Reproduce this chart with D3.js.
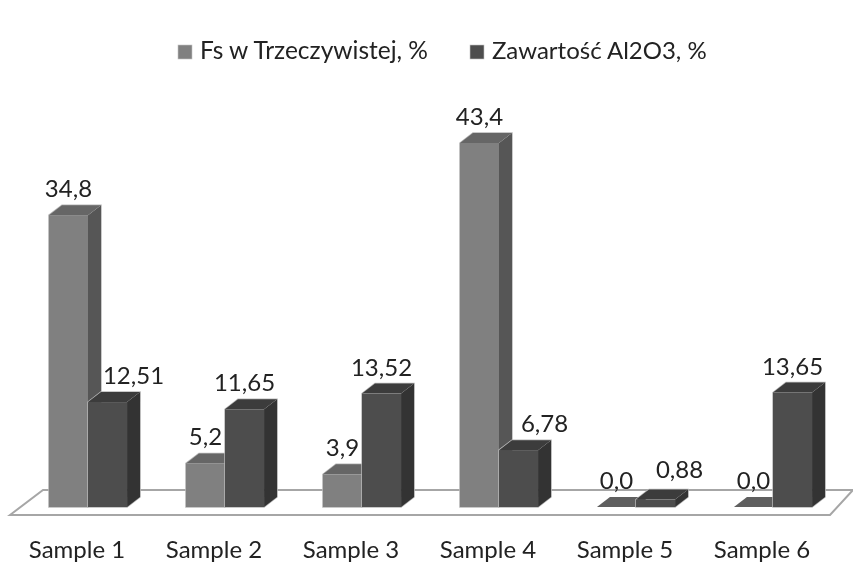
<!DOCTYPE html>
<html>
<head>
<meta charset="utf-8">
<script src="https://cdn.jsdelivr.net/npm/d3@7"></script>
<style>
  body { margin: 0; background: #fff; }
  svg { filter: blur(0.4px); }
  text { font-family: Lato, sans-serif; fill: #222; }
</style>
</head>
<body>
<svg class="chart" width="853" height="565"></svg>
<script>
const categories = ["Sample 1", "Sample 2", "Sample 3", "Sample 4", "Sample 5", "Sample 6"];
const seriesNames = ["Fs w Trzeczywistej, %", "Zawartość Al2O3, %"];
const fsValues = [34.8, 5.2, 3.9, 43.4, 0.0, 0.0];
const fsLabels = ["34,8", "5,2", "3,9", "43,4", "0,0", "0,0"];
const alValues = [12.51, 11.65, 13.52, 6.78, 0.88, 13.65];
const alLabels = ["12,51", "11,65", "13,52", "6,78", "0,88", "13,65"];

const baseY = 507;
const depthX = 13;
const depthY = 10;

const colors = [
  { front: "#808080", top: "#666666", side: "#565656" },
  { front: "#4d4d4d", top: "#3c3c3c", side: "#333333" }
];

const svg = d3.select(".chart");

// Set the scales
const xScale = d3.scaleBand().domain(categories).range([19.5, 841.5]).paddingInner(0.43).paddingOuter(0.215);
const subScale = d3.scaleBand().domain([0, 1]).range([0, xScale.bandwidth()]);
const yScale = d3.scaleLinear().domain([0, 43.4]).range([baseY, 143]);

// Floor of the 3d plot
svg.append("polygon")
  .attr("points", [[10, 515], [43, 490], [853, 490], [830, 515]].join(" "))
  .attr("fill", "#fff")
  .attr("stroke", "#a6a6a6")
  .attr("stroke-width", 2);

// Draw the bars, first series before the second one so it stays behind
const bars = [];
categories.forEach((c, i) => {
  bars.push({ c, s: 0, v: fsValues[i] });
  bars.push({ c, s: 1, v: alValues[i] });
});

const bar = svg.selectAll(".bar").data(bars).enter().append("g").attr("class", "bar");

const x0 = d => xScale(d.c) + subScale(d.s);
const x1 = d => x0(d) + subScale.bandwidth();
const yt = d => yScale(d.v);

// light edge round the whole bar, the faces go on top of it
bar.filter(d => d.v > 0).append("polygon")
  .attr("points", d => [
    [x0(d), baseY], [x0(d), yt(d)], [x0(d) + depthX, yt(d) - depthY],
    [x1(d) + depthX, yt(d) - depthY], [x1(d) + depthX, baseY - depthY], [x1(d), baseY]
  ].join(" "))
  .attr("fill", "none")
  .attr("stroke", "#b8b8b8")
  .attr("stroke-width", 1.5);

bar.append("polygon")
  .attr("points", d => [[x1(d), yt(d)], [x1(d) + depthX, yt(d) - depthY], [x1(d) + depthX, baseY - depthY], [x1(d), baseY]].join(" "))
  .attr("fill", d => colors[d.s].side);

bar.append("polygon")
  .attr("points", d => [[x0(d), yt(d)], [x0(d) + depthX, yt(d) - depthY], [x1(d) + depthX, yt(d) - depthY], [x1(d), yt(d)]].join(" "))
  .attr("fill", d => d.v > 0 ? colors[d.s].top : "#5f5f5f");

bar.filter(d => d.v > 0).append("rect")
  .attr("x", x0)
  .attr("y", yt)
  .attr("width", subScale.bandwidth())
  .attr("height", d => baseY - yt(d))
  .attr("fill", d => colors[d.s].front);

// Value labels
const labelSize = 24;
categories.forEach((c, i) => {
  const a = { c, s: 0, v: fsValues[i] };
  const b = { c, s: 1, v: alValues[i] };
  const close = Math.abs(yt(a) - yt(b)) < 25;
  // the second label moves right when the first bar or its label is in the way
  const shift = close ? 24 : fsValues[i] > alValues[i] ? 26 : 0;

  svg.append("text")
    .attr("x", (x0(a) + x1(a)) / 2)
    .attr("y", yt(a) - 18)
    .attr("text-anchor", "middle")
    .style("font-size", labelSize + "px")
    .text(fsLabels[i]);

  svg.append("text")
    .attr("x", (x0(b) + x1(b)) / 2 + shift)
    .attr("y", yt(b) - (close ? 22 : 18))
    .attr("text-anchor", "middle")
    .style("font-size", labelSize + "px")
    .text(alLabels[i]);
});

// Category labels
svg.selectAll(".cat").data(categories).enter().append("text")
  .attr("class", "cat")
  .attr("x", d => xScale(d) + xScale.bandwidth() / 2 - 11)
  .attr("y", 558)
  .attr("text-anchor", "middle")
  .style("font-size", "24px")
  .text(d => d);

// Legend
const legendX = [178, 470];
const legendSize = [24.5, 24];
seriesNames.forEach((name, i) => {
  svg.append("rect")
    .attr("x", legendX[i])
    .attr("y", 45)
    .attr("width", 14)
    .attr("height", 14)
    .attr("fill", colors[i].front)
    .attr("stroke", "#c4c4c4")
    .attr("stroke-width", 0.6);
  svg.append("text")
    .attr("x", legendX[i] + 22)
    .attr("y", 59)
    .style("font-size", legendSize[i] + "px")
    .text(name);
});
</script>
</body>
</html>
